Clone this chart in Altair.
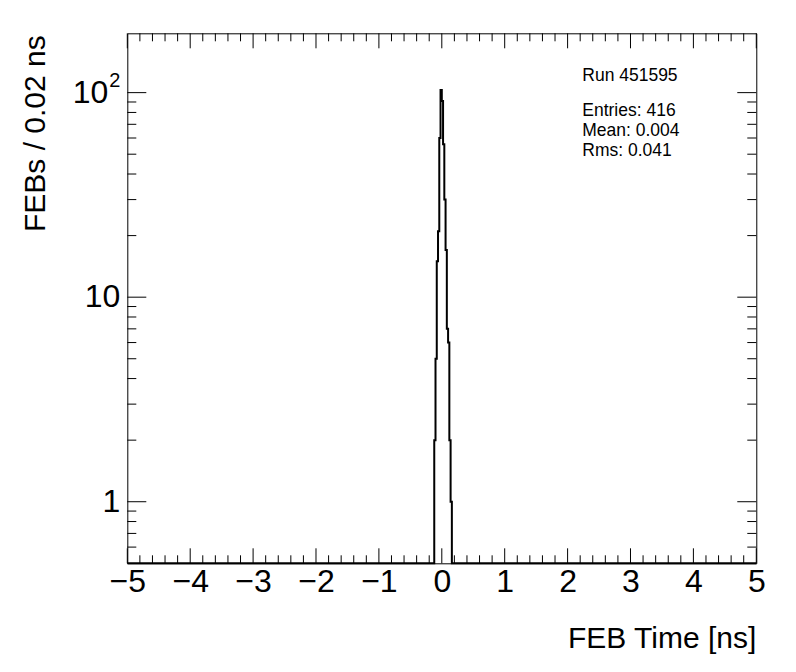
import altair as alt
import pandas as pd

# ---- data ----
bin_left = [-0.12, -0.10, -0.08, -0.06, -0.04, -0.02, 0.00, 0.02, 0.04, 0.06, 0.08, 0.10, 0.12, 0.14]
counts = [2, 5, 15, 21, 60, 103, 91, 56, 30, 17, 7, 6, 2, 1]
bin_width = 0.02
x_range = [-5, 5]
y_range = [0.5, 195]

x_major = [-5, -4, -3, -2, -1, 0, 1, 2, 3, 4, 5]
x_minor = [round(-5 + 0.2 * i, 2) for i in range(51) if i % 5 != 0]
y_major = [1, 10, 100]
y_minor = [0.6, 0.7, 0.8, 0.9, 2, 3, 4, 5, 6, 7, 8, 9, 20, 30, 40, 50, 60, 70, 80, 90]
y_plain_labels = [1, 10]
y_sup_label = 100

run_label = "Run 451595"
stats_lines = ["Entries: 416", "Mean: 0.004", "Rms: 0.041"]
x_title = "FEB Time [ns]"
y_title = "FEBs / 0.02 ns"

W, H = 629, 530
FONT = "Liberation Sans"
LBL = 32
TTL = 30

# histogram outline (ROOT style: runs along the frame bottom where empty)
edges = [x_range[0]] + bin_left + [round(bin_left[-1] + bin_width, 2), x_range[1]]
vals = [y_range[0]] + counts + [y_range[0], y_range[0]]
hist_df = pd.DataFrame({"x": edges, "y": vals, "o": list(range(len(edges)))})

xs = alt.Scale(domain=x_range, nice=False, zero=False)
ys = alt.Scale(type="log", domain=y_range, nice=False)

hist = alt.Chart(hist_df).mark_line(
    interpolate="step-after", color="black", strokeWidth=2, clip=False
).encode(
    x=alt.X("x:Q", scale=xs, axis=alt.Axis(
        values=x_major, format="d", grid=False, ticks=False, tickSize=0, domain=False,
        labelFont=FONT, labelFontSize=LBL, labelColor="black", labelPadding=3,
        labelExpr="replace(datum.label, '-', '−')", title=None, labelFlush=False)),
    y=alt.Y("y:Q", scale=ys, axis=None),
    order="o:Q",
)


def xticks(vals_, length, top):
    df = pd.DataFrame({"t": vals_})
    y0, y1 = (0, length) if top else (H, H - length)
    return alt.Chart(df).mark_rule(color="black", strokeWidth=1).encode(
        x=alt.X("t:Q", scale=xs), y=alt.value(y0), y2=alt.value(y1))


def yticks(vals_, length, right):
    df = pd.DataFrame({"t": vals_})
    x0, x1 = (W, W - length) if right else (0, length)
    return alt.Chart(df).mark_rule(color="black", strokeWidth=1).encode(
        y=alt.Y("t:Q", scale=ys), x=alt.value(x0), x2=alt.value(x1))


ticks = [
    xticks(x_major, 15, False), xticks(x_minor, 8, False),
    xticks(x_major, 15, True), xticks(x_minor, 8, True),
    yticks(y_major, 19, False), yticks(y_minor, 9, False),
    yticks(y_major, 19, True), yticks(y_minor, 9, True),
]

# y tick labels (10^2 drawn with a real superscript)
ylab = alt.Chart(pd.DataFrame({"t": y_plain_labels})).mark_text(
    align="right", baseline="middle", font=FONT, fontSize=LBL, color="black"
).encode(y=alt.Y("t:Q", scale=ys), x=alt.value(-7), text=alt.Text("t:Q", format="d"))
ylab_base = alt.Chart(pd.DataFrame({"t": [y_sup_label]})).mark_text(
    align="right", baseline="middle", font=FONT, fontSize=LBL, color="black"
).encode(y=alt.Y("t:Q", scale=ys), x=alt.value(-19), text=alt.value("10"))
ylab_sup = alt.Chart(pd.DataFrame({"t": [y_sup_label]})).mark_text(
    align="right", baseline="middle", font=FONT, fontSize=20, color="black", dy=-12
).encode(y=alt.Y("t:Q", scale=ys), x=alt.value(-7), text=alt.value("2"))

one = pd.DataFrame({"a": [0]})
run_txt = alt.Chart(one).mark_text(
    align="left", baseline="alphabetic", font=FONT, fontSize=17.5, color="black"
).encode(x=alt.value(455), y=alt.value(47.5), text=alt.value(run_label))
stats_txt = alt.Chart(one).mark_text(
    align="left", baseline="alphabetic", font=FONT, fontSize=17.5, color="black", lineHeight=20
).encode(x=alt.value(455), y=alt.value(82.5), text=alt.value(stats_lines))
xt = alt.Chart(one).mark_text(
    align="right", baseline="alphabetic", font=FONT, fontSize=TTL, color="black"
).encode(x=alt.value(W), y=alt.value(614.5), text=alt.value(x_title))
yt = alt.Chart(one).mark_text(
    align="right", baseline="alphabetic", font=FONT, fontSize=TTL, color="black", angle=270
).encode(x=alt.value(-82), y=alt.value(2), text=alt.value(y_title))

chart = alt.layer(hist, *ticks, ylab, ylab_base, ylab_sup, run_txt, stats_txt, xt, yt).properties(
    width=W, height=H,
    padding={"left": 119.3, "top": 25.3, "right": 30, "bottom": 100},
    autosize=alt.AutoSizeParams(type="none"),
    background="white",
).configure_view(stroke="black", strokeWidth=1)

chart.save("out.html", embed_options={"renderer": "svg", "actions": False})
